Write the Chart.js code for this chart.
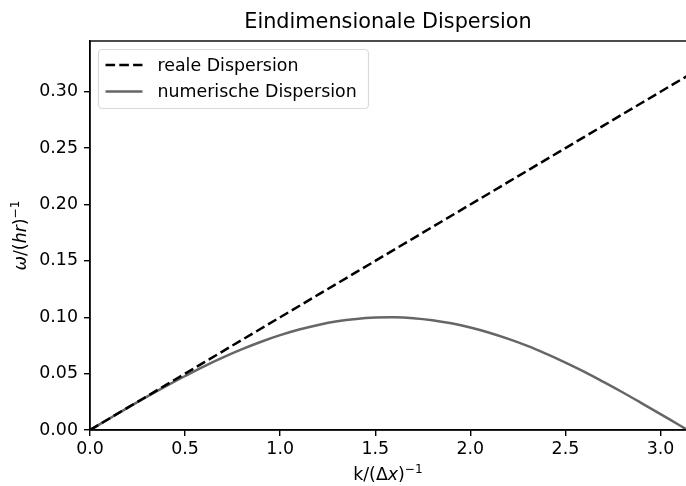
<!DOCTYPE html>
<html lang="de">
<head>
    <meta charset="UTF-8">
    <title>Eindimensionale Dispersion</title>
    <script src="https://cdn.jsdelivr.net/npm/chart.js"></script>
    <style>
        body {
            margin: 0;
            background: white;
        }

        .chart-box {
            width: 686px;
            height: 486px;
            position: relative;
        }
    </style>
</head>
<body>
    <div class="chart-box">
        <canvas id="dispersionChart"></canvas>
    </div>

    <script>
        // k/(Δx)^-1 sample points
        const kValues = [0, 0.1, 0.2, 0.3, 0.4, 0.5, 0.6, 0.7, 0.8, 0.9, 1.0, 1.1, 1.2, 1.3, 1.4, 1.5,
                         1.6, 1.7, 1.8, 1.9, 2.0, 2.1, 2.2, 2.3, 2.4, 2.5, 2.6, 2.7, 2.8, 2.9, 3.0, 3.1, 3.1416];

        // real dispersion (straight dashed line)
        const realOmega = [0, 0.010, 0.020, 0.030, 0.040, 0.050, 0.060, 0.070, 0.080, 0.090, 0.100, 0.110,
                           0.120, 0.130, 0.140, 0.150, 0.160, 0.170, 0.180, 0.190, 0.200, 0.210, 0.220,
                           0.230, 0.240, 0.250, 0.260, 0.270, 0.280, 0.290, 0.300, 0.310, 0.314];

        // numerical dispersion (grey curve)
        const numOmega = [0, 0.0100, 0.0199, 0.0296, 0.0389, 0.0479, 0.0565, 0.0644, 0.0717, 0.0783,
                          0.0841, 0.0891, 0.0932, 0.0964, 0.0985, 0.0997, 0.1000, 0.0992, 0.0974, 0.0946,
                          0.0909, 0.0863, 0.0808, 0.0746, 0.0675, 0.0598, 0.0516, 0.0427, 0.0335, 0.0239,
                          0.0141, 0.0042, 0];

        const xTicks = [0, 0.5, 1.0, 1.5, 2.0, 2.5, 3.0];
        const yTicks = [0, 0.05, 0.10, 0.15, 0.20, 0.25, 0.30];

        const seriesLabels = ['reale Dispersion', 'numerische Dispersion'];
        const chartTitle = 'Eindimensionale Dispersion';

        const FONT = "'DejaVu Sans', sans-serif";
        const FS = 17.4;

        function toPoints(ys) {
            return kValues.map((k, i) => ({ x: k, y: ys[i] }));
        }

        // draw a label made of pieces, some italic, some superscript
        function drawRich(ctx, parts, size) {
            let total = 0;
            parts.forEach(p => {
                const s = p.sup ? size * 0.7 : size;
                ctx.font = (p.it ? 'italic ' : '') + s + 'px ' + FONT;
                p.w = ctx.measureText(p.t).width;
                total += p.w;
            });
            let x = -total / 2;
            parts.forEach(p => {
                const s = p.sup ? size * 0.7 : size;
                ctx.font = (p.it ? 'italic ' : '') + s + 'px ' + FONT;
                ctx.fillText(p.t, x, p.sup ? -size * 0.42 : 0);
                x += p.w;
            });
        }

        const decorPlugin = {
            id: 'decor',
            afterDraw(chart) {
                const ctx = chart.ctx;
                const a = chart.chartArea;
                ctx.save();

                // frame
                ctx.strokeStyle = '#000';
                ctx.lineWidth = 1.4;
                ctx.strokeRect(a.left, a.top, a.right - a.left + 2, a.bottom - a.top);

                ctx.fillStyle = '#000';
                ctx.textBaseline = 'alphabetic';

                // title
                ctx.font = '20.8px ' + FONT;
                ctx.textAlign = 'center';
                ctx.fillText(chartTitle, (a.left + a.right) / 2, 28);

                ctx.textAlign = 'left';
                // x label
                ctx.save();
                ctx.translate((a.left + a.right) / 2, 480);
                drawRich(ctx, [{ t: 'k/(Δ' }, { t: 'x', it: true }, { t: ')' }, { t: '−1', sup: true }], FS);
                ctx.restore();

                // y label
                ctx.save();
                ctx.translate(26, (a.top + a.bottom) / 2);
                ctx.rotate(-Math.PI / 2);
                drawRich(ctx, [{ t: 'ω', it: true }, { t: '/(' }, { t: 'hr', it: true }, { t: ')' }, { t: '−1', sup: true }], FS);
                ctx.restore();

                // legend
                const lx = a.left + 8.5, ly = a.top + 8.5, lw = 270, lh = 59;
                ctx.beginPath();
                ctx.roundRect(lx, ly, lw, lh, 4);
                ctx.fillStyle = 'rgba(255,255,255,0.8)';
                ctx.fill();
                ctx.strokeStyle = '#d9d9d9';
                ctx.lineWidth = 1.2;
                ctx.stroke();

                const ds = chart.data.datasets;
                ds.forEach((d, i) => {
                    const yy = ly + 15.5 + i * 26.5;
                    ctx.beginPath();
                    ctx.setLineDash(d.borderDash || []);
                    ctx.strokeStyle = d.borderColor;
                    ctx.lineWidth = d.borderWidth;
                    ctx.moveTo(lx + 7, yy);
                    ctx.lineTo(lx + 44, yy);
                    ctx.stroke();
                    ctx.setLineDash([]);
                    ctx.fillStyle = '#000';
                    ctx.font = FS + 'px ' + FONT;
                    ctx.textBaseline = 'middle';
                    ctx.fillText(d.label, lx + 59, yy + 1);
                });

                ctx.restore();
            }
        };

        const ctx = document.getElementById('dispersionChart').getContext('2d');

        new Chart(ctx, {
            type: 'line',
            data: {
                datasets: [{
                    label: seriesLabels[0],
                    data: toPoints(realOmega),
                    borderColor: '#000000',
                    borderWidth: 2.5,
                    borderDash: [9.6, 4.2],
                    pointRadius: 0,
                    fill: false
                }, {
                    label: seriesLabels[1],
                    data: toPoints(numOmega),
                    borderColor: '#666666',
                    borderWidth: 2.5,
                    pointRadius: 0,
                    tension: 0.4,
                    fill: false
                }]
            },
            options: {
                responsive: true,
                maintainAspectRatio: false,
                animation: false,
                layout: {
                    padding: { top: 41, right: 0, left: 0, bottom: 0 }
                },
                plugins: {
                    legend: { display: false },
                    title: { display: false },
                    tooltip: { enabled: false }
                },
                scales: {
                    x: {
                        type: 'linear',
                        min: 0,
                        max: 3.134,
                        afterFit: s => { s.height = 56; },
                        afterBuildTicks: s => { s.ticks = xTicks.map(v => ({ value: v })); },
                        ticks: {
                            color: '#000',
                            font: { family: FONT, size: FS },
                            padding: 3,
                            maxRotation: 0,
                            callback: v => v.toFixed(1)
                        },
                        grid: {
                            drawOnChartArea: false,
                            drawTicks: true,
                            tickLength: 6,
                            color: '#000',
                            lineWidth: 1.4
                        },
                        border: { color: '#000', width: 1.4 }
                    },
                    y: {
                        type: 'linear',
                        min: 0,
                        max: 0.345,
                        afterFit: s => { s.width = 90; },
                        afterBuildTicks: s => { s.ticks = yTicks.map(v => ({ value: v })); },
                        ticks: {
                            color: '#000',
                            font: { family: FONT, size: FS },
                            padding: 6,
                            callback: v => v.toFixed(2)
                        },
                        grid: {
                            drawOnChartArea: false,
                            drawTicks: true,
                            tickLength: 6,
                            color: '#000',
                            lineWidth: 1.4
                        },
                        border: { color: '#000', width: 1.4 }
                    }
                }
            },
            plugins: [decorPlugin]
        });
    </script>
</body>
</html>
